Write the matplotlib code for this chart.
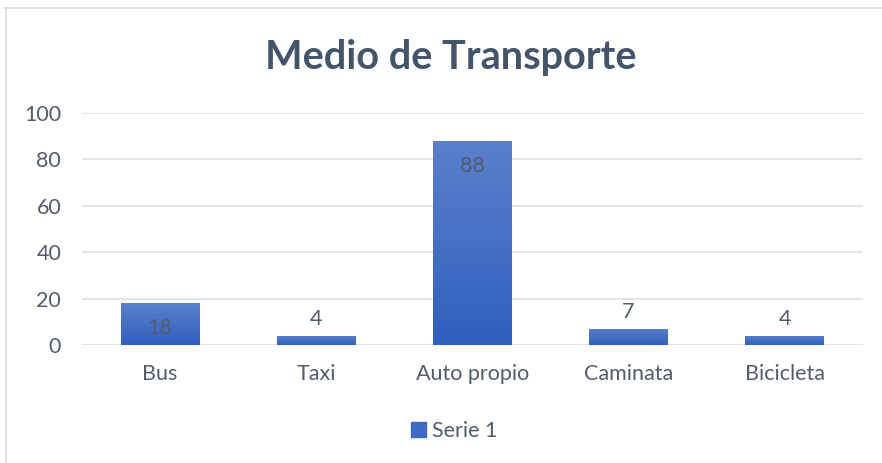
import matplotlib.pyplot as plt
import numpy as np
from matplotlib.colors import LinearSegmentedColormap
from matplotlib.patches import Rectangle

# data
categories = ['Bus', 'Taxi', 'Auto propio', 'Caminata', 'Bicicleta']
values = [18, 4, 88, 7, 4]
series_name = 'Serie 1'
y_ticks = [0, 20, 40, 60, 80, 100]

plt.rcParams['font.family'] = ['Lato', 'DejaVu Sans']

text_color = '#525C6C'
title_color = '#44546A'
grid_color = '#DFE2E7'

fig = plt.figure(figsize=(8.82, 4.63), dpi=100)
ax = fig.add_axes([0.093, 0.255, 0.885, 0.501])

x = np.arange(len(categories))
bars = ax.bar(x, values, width=0.505, color='#4472C4', zorder=2, label=series_name)

# excel style vertical gradient on each bar
cmap = LinearSegmentedColormap.from_list('grad', ['#2F5FBD', '#5B80CB'])
grad = np.linspace(0, 1, 256).reshape(-1, 1)
for b in bars:
    bx, by = b.get_x(), b.get_y()
    bw, bh = b.get_width(), b.get_height()
    im = ax.imshow(grad, cmap=cmap, origin='lower', aspect='auto',
                   extent=(bx, bx + bw, by, by + bh), zorder=3)
    im.set_clip_path(b)

ax.set_xlim(-0.5, len(categories) - 0.5)
ax.set_ylim(0, 100)
ax.set_yticks(y_ticks)
ax.set_xticks(x)
ax.set_xticklabels(categories)
ax.grid(axis='y', color=grid_color, linewidth=1.3, zorder=0)
ax.set_axisbelow(True)
for s in ax.spines.values():
    s.set_visible(False)
ax.tick_params(axis='both', length=0, labelsize=15.5, colors=text_color)
ax.tick_params(axis='y', pad=15)
ax.tick_params(axis='x', pad=14)

for xi, v in zip(x, values):
    if v > 10:
        ax.annotate(str(v), (xi, v), xytext=(0, -18), textcoords='offset points',
                    ha='center', va='center', fontsize=15.5, color=text_color, zorder=4)
    else:
        ax.annotate(str(v), (xi, v), xytext=(0, 12), textcoords='offset points',
                    ha='center', va='center', fontsize=15.5, color=text_color, zorder=4)

fig.text(0.511, 0.876, 'Medio de Transporte', ha='center', va='center',
         fontsize=28.5, fontweight='bold', color=title_color)

leg = fig.legend(handles=[Rectangle((0, 0), 1, 1, color='#3F6AC4')], labels=[series_name],
                 loc='center', bbox_to_anchor=(0.515, 0.07), frameon=False,
                 fontsize=15.5, handlelength=0.7, handleheight=0.7, handletextpad=0.3)
for t in leg.get_texts():
    t.set_color(text_color)

# chart area border (top and left edges visible in the crop)
fig.add_artist(plt.Line2D([0.005, 1.0], [0.983, 0.983], color='#DADDE2', linewidth=1.2))
fig.add_artist(plt.Line2D([0.007, 0.007], [0.0, 0.983], color='#DADDE2', linewidth=1.2))

fig.savefig('out.png', dpi=100)
